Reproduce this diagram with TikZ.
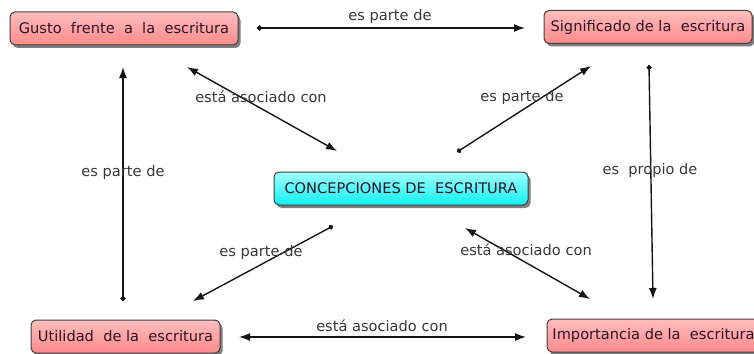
\documentclass[tikz,border=0pt]{standalone}
\usepackage{fontspec}
\setmainfont{DejaVu Sans}
\usetikzlibrary{arrows.meta,shadows}
\definecolor{boxtxt}{HTML}{2A1428}
\definecolor{lbltxt}{HTML}{383838}
\definecolor{linec}{HTML}{151515}
\definecolor{pinktop}{HTML}{FFBDBD}
\definecolor{pinkbot}{HTML}{FF8A8A}
\definecolor{cyantop}{HTML}{A0FFFF}
\definecolor{cyanbot}{HTML}{10F0F0}
\definecolor{bordc}{HTML}{404040}
\tikzset{
  concept/.style={rectangle, rounded corners=5pt, draw=bordc, line width=1pt,
    top color=pinktop, bottom color=pinkbot, text=boxtxt, inner sep=0pt,
    minimum height=33pt, font=\fontsize{14.6}{16}\selectfont,
    drop shadow={shadow xshift=2.5pt, shadow yshift=-3pt, opacity=0.5, fill=black}},
  hub/.style={concept, top color=cyantop, bottom color=cyanbot},
  lbl/.style={text=lbltxt, inner sep=0pt, font=\fontsize{14.6}{16}\selectfont},
  link/.style={draw=linec, line width=1.4pt, {Circle[length=5pt]}-{Latex[length=11pt,width=8pt]}},
  dlink/.style={draw=linec, line width=1.4pt, {Latex[length=11pt,width=8pt]}-{Latex[length=11pt,width=8pt]}}
}
\begin{document}
\begin{tikzpicture}[x=1pt,y=-1pt]
\useasboundingbox (0,0) rectangle (754,353);
% nodes
\node[concept, minimum width=228pt] (gusto) at (124,28.5) {Gusto~ frente~ a~ la~ escritura};
\node[concept, minimum width=208pt] (signif) at (648,27) {Significado de la~ escritura};
\node[hub, minimum width=254pt] (conc) at (401,188.5) {CONCEPCIONES DE~ ESCRITURA};
\node[concept, minimum width=189pt] (util) at (125.5,336.5) {Utilidad~ de la~ escritura};
\node[concept, minimum width=213pt] (impor) at (653.5,335.5) {Importancia de la~ escritura};
% connector end points
\coordinate (c1a) at (257,28);  \coordinate (c1b) at (525,28);
\coordinate (c2a) at (649,65);  \coordinate (c2b) at (653,299);
\coordinate (c3a) at (187,67);  \coordinate (c3b) at (337,151);
\coordinate (c4a) at (457,152); \coordinate (c4b) at (591,66);
\coordinate (c5a) at (333,226); \coordinate (c5b) at (193,301);
\coordinate (c6a) at (465,228); \coordinate (c6b) at (590,299);
\coordinate (c7a) at (123,301); \coordinate (c7b) at (123,67);
\coordinate (c8a) at (239,337); \coordinate (c8b) at (526,337);
% connectors
\draw[link] (c1a) -- (c1b);
\draw[link] (c2a) -- (c2b);
\draw[dlink] (c3a) -- (c3b);
\draw[link] (c4a) -- (c4b);
\draw[link] (c5a) -- (c5b);
\draw[dlink] (c6a) -- (c6b);
\draw[link] (c7a) -- (c7b);
\draw[dlink] (c8a) -- (c8b);
% labels
\node[lbl] (l1) at (390,16) {es parte de};
\node[lbl] (l2) at (650,170) {es~ propio de};
\node[lbl] (l3) at (261,97) {está asociado con};
\node[lbl] (l4) at (522,97) {es parte de};
\node[lbl] (l5) at (261,252) {es parte de};
\node[lbl] (l6) at (526,250) {está asociado con};
\node[lbl] (l7) at (123,172) {es parte de};
\node[lbl] (l8) at (382,326) {está asociado con};
\end{tikzpicture}
\end{document}
